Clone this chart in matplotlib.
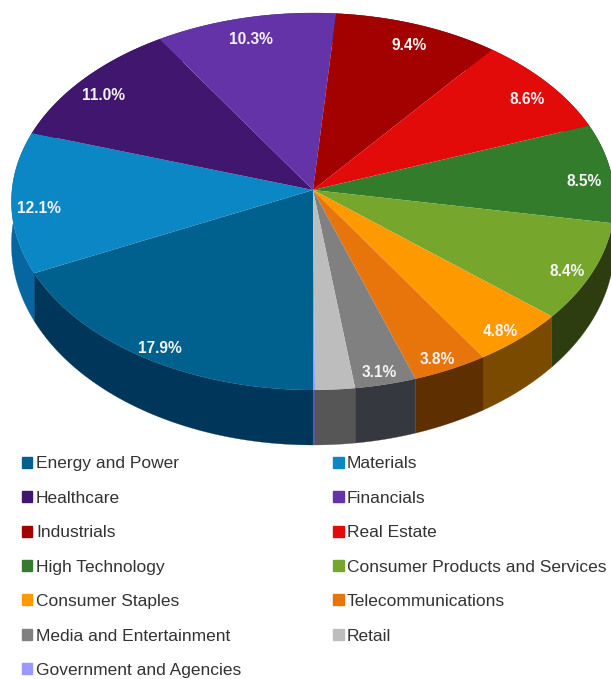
import numpy as np
import matplotlib.pyplot as plt
from matplotlib.patches import Patch

plt.rcParams['font.family'] = ['Liberation Sans', 'DejaVu Sans']

sectors = ['Energy and Power', 'Materials', 'Healthcare', 'Financials', 'Industrials',
           'Real Estate', 'High Technology', 'Consumer Products and Services',
           'Consumer Staples', 'Telecommunications', 'Media and Entertainment',
           'Retail', 'Government and Agencies']
shares = [17.9, 12.1, 11.0, 10.3, 9.4, 8.6, 8.5, 8.4, 4.8, 3.8, 3.1, 2.0, 0.1]
top_colors = ['#00608e', '#0a87c4', '#40166e', '#6533a8', '#a30000', '#e30a0a', '#327c2b',
              '#76a72c', '#ff9900', '#e8740c', '#808080', '#bdbdbd', '#9999ff']
wall_colors = ['#00365a', '#06669f', '#2a0e4a', '#43226f', '#6a0000', '#950606', '#1e4d1a',
               '#2e3d10', '#7a4a00', '#5e2f00', '#35393f', '#565656', '#5a5a99']
# shares below this are too small to carry a label
min_labelled = 3.0

# projected disc: centre in pixels, half axes and perspective strength
cx, cy = 313, 190
a, b, k = 301, 187.8, 0.061


def project(x, y):
    d = 1 + k * y
    return cx + a * x / d, cy - b * y / d


def wall_depth(y):
    return 42 - 13 * y


fig = plt.figure(figsize=(6.11, 6.79), dpi=100)
ax = fig.add_axes([0, 0, 1, 1])
ax.set_xlim(0, 611)
ax.set_ylim(679, 0)
ax.axis('off')

edges = np.cumsum([0] + shares) / sum(shares) * 2 * np.pi

# angle runs clockwise from the front of the pie
for i in range(len(shares)):
    t = np.linspace(edges[i], edges[i + 1], 80)
    ux, uy = -np.sin(t), -np.cos(t)
    px, py = project(ux, uy)
    low = py + wall_depth(uy)
    ax.fill(np.r_[px, px[::-1]], np.r_[py, low[::-1]], color=wall_colors[i], lw=0.2, zorder=2)

for i in range(len(shares)):
    t = np.linspace(edges[i], edges[i + 1], 80)
    px, py = project(-np.sin(t), -np.cos(t))
    ax.fill(np.r_[cx, px], np.r_[cy, py], color=top_colors[i], lw=0, zorder=3)

    if shares[i] > min_labelled:
        mid = (edges[i] + edges[i + 1]) / 2
        lx, ly = project(-0.91 * np.sin(mid), -0.91 * np.cos(mid))
        ax.text(lx, ly + 7, '%.1f%%' % shares[i], color='#f4f4f4', fontsize=11.2, fontweight='bold',
                ha='center', va='center', zorder=4)

# legend fills by column, so reorder to read across the rows
handles = [Patch(color=c, label=s) for s, c in zip(sectors, top_colors)]
handles = handles[0::2] + handles[1::2]
ax.legend(handles=handles, ncol=2, loc='upper left', bbox_to_anchor=(0.036, 0.328),
          frameon=False, fontsize=12.5, labelcolor='#333333', handlelength=0.6, handleheight=0.6,
          handletextpad=0.2, labelspacing=1.12, columnspacing=5.3, borderpad=0, borderaxespad=0)

fig.savefig('out.png', dpi=100)
